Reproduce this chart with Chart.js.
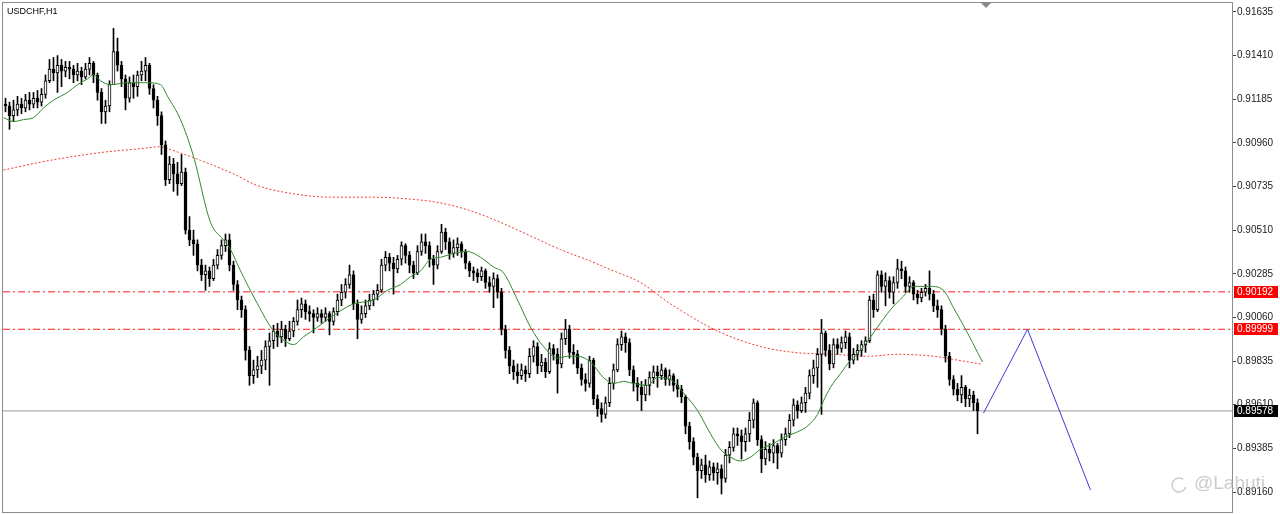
<!DOCTYPE html>
<html>
<head>
<meta charset="utf-8">
<script src="https://cdn.jsdelivr.net/npm/chart.js@4.4.0/dist/chart.umd.min.js"></script>
<style>
  html, body { margin: 0; padding: 0; background: #fff; overflow: hidden; }
  #wrap { width: 1280px; height: 514px; }
</style>
</head>
<body>
<div id="wrap"><canvas id="chart" width="1280" height="514"></canvas></div>
<script>
// USDCHF H1 candles
const firstOpen = 0.9116;
const closes = [
  0.9115, 0.9110, 0.9113, 0.9116, 0.9114, 0.9118, 0.9116, 0.9119, 0.9117, 0.9121,
  0.9128, 0.9134, 0.9132, 0.9136, 0.9133, 0.9135, 0.9134, 0.9131, 0.9133, 0.9130,
  0.9134, 0.9137, 0.9131, 0.9122, 0.9112, 0.9115, 0.9126, 0.9143, 0.9136, 0.9129,
  0.9119, 0.9127, 0.9125, 0.9131, 0.9133, 0.9136, 0.9124, 0.9118, 0.9110, 0.9095,
  0.9077, 0.9085, 0.9080, 0.9075, 0.9081, 0.9051, 0.9046, 0.9044, 0.9033, 0.9028,
  0.9030, 0.9026, 0.9033, 0.9038, 0.9043, 0.9046, 0.9033, 0.9023, 0.9015, 0.9010,
  0.8989, 0.8976, 0.8979, 0.8981, 0.8984, 0.8991, 0.8994, 0.8999, 0.8996, 0.9000,
  0.8995, 0.8999, 0.9004, 0.9010, 0.9013, 0.9009, 0.9008, 0.9006, 0.9008, 0.9006,
  0.9008, 0.9004, 0.9009, 0.9015, 0.9019, 0.9023, 0.9028, 0.9013, 0.9005, 0.9008,
  0.9012, 0.9015, 0.9018, 0.9020, 0.9033, 0.9037, 0.9034, 0.9031, 0.9036, 0.9043,
  0.9038, 0.9033, 0.9029, 0.9040, 0.9045, 0.9043, 0.9036, 0.9033, 0.9040, 0.9050,
  0.9045, 0.9039, 0.9042, 0.9044, 0.9040, 0.9034, 0.9030, 0.9029, 0.9027, 0.9030,
  0.9024, 0.9022, 0.9026, 0.9019, 0.9000, 0.8989, 0.8981, 0.8978, 0.8976, 0.8979,
  0.8977, 0.8986, 0.8991, 0.8981, 0.8983, 0.8978, 0.8990, 0.8987, 0.8982, 0.8995,
  0.9000, 0.8988, 0.8987, 0.8980, 0.8974, 0.8972, 0.8984, 0.8964, 0.8959, 0.8956,
  0.8962, 0.8972, 0.8979, 0.8992, 0.8996, 0.8993, 0.8979, 0.8972, 0.8970, 0.8966,
  0.8971, 0.8975, 0.8978, 0.8976, 0.8979, 0.8974, 0.8976, 0.8971, 0.8969, 0.8965,
  0.8950, 0.8942, 0.8934, 0.8927, 0.8930, 0.8925, 0.8929, 0.8926, 0.8928, 0.8923,
  0.8935, 0.8939, 0.8946, 0.8945, 0.8942, 0.8946, 0.8953, 0.8962, 0.8943, 0.8933,
  0.8938, 0.8936, 0.8940, 0.8936, 0.8943, 0.8946, 0.8953, 0.8961, 0.8958, 0.8962,
  0.8967, 0.8976, 0.8980, 0.8987, 0.8998, 0.8989, 0.8982, 0.8992, 0.8990, 0.8993,
  0.8996, 0.8984, 0.8987, 0.8989, 0.8992, 0.8994, 0.9015, 0.9010, 0.9028, 0.9022,
  0.9025, 0.9019, 0.9024, 0.9031, 0.9030, 0.9022, 0.9024, 0.9018, 0.9016, 0.9019,
  0.9021, 0.9018, 0.9012, 0.9010, 0.9000, 0.8986, 0.8974, 0.8969, 0.8966, 0.8970,
  0.8964, 0.8966, 0.8962, 0.89578
];
const highs = [
  0.9119, 0.9117, 0.9118, 0.9120, 0.9119, 0.9121, 0.9122, 0.9122, 0.9123, 0.9124,
  0.9131, 0.9139, 0.9140, 0.9141, 0.9139, 0.9138, 0.9138, 0.9136, 0.9137, 0.9135,
  0.9137, 0.9140, 0.9138, 0.9132, 0.9124, 0.9118, 0.9128, 0.9155, 0.9150, 0.9138,
  0.9131, 0.9130, 0.9131, 0.9133, 0.9138, 0.9140, 0.9137, 0.9126, 0.9120, 0.9112,
  0.9097, 0.9089, 0.9088, 0.9086, 0.9090, 0.9083, 0.9058, 0.9051, 0.9046, 0.9036,
  0.9033, 0.9032, 0.9036, 0.9041, 0.9046, 0.9049, 0.9049, 0.9035, 0.9025, 0.9017,
  0.9012, 0.8991, 0.8984, 0.8986, 0.8989, 0.8994, 0.8998, 0.9002, 0.9003, 0.9004,
  0.9002, 0.9004, 0.9006, 0.9015, 0.9016, 0.9015, 0.9012, 0.9010, 0.9011, 0.9010,
  0.9011, 0.9009, 0.9011, 0.9018, 0.9023, 0.9026, 0.9033, 0.9030, 0.9015, 0.9012,
  0.9015, 0.9018, 0.9020, 0.9023, 0.9036, 0.9040, 0.9039, 0.9037, 0.9038, 0.9045,
  0.9044, 0.9040, 0.9035, 0.9043, 0.9049, 0.9049, 0.9045, 0.9038, 0.9043, 0.9054,
  0.9052, 0.9047, 0.9046, 0.9047, 0.9045, 0.9041, 0.9035, 0.9032, 0.9031, 0.9032,
  0.9031, 0.9027, 0.9029, 0.9028, 0.9021, 0.9002, 0.8991, 0.8984, 0.8982, 0.8982,
  0.8981, 0.8990, 0.8994, 0.8993, 0.8987, 0.8985, 0.8993, 0.8992, 0.8990, 0.8998,
  0.9005, 0.9002, 0.8992, 0.8989, 0.8982, 0.8977, 0.8986, 0.8985, 0.8966, 0.8962,
  0.8965, 0.8975, 0.8982, 0.8995, 0.8999, 0.8998, 0.8995, 0.8981, 0.8975, 0.8973,
  0.8974, 0.8978, 0.8981, 0.8981, 0.8982, 0.8980, 0.8979, 0.8977, 0.8974, 0.8971,
  0.8966, 0.8952, 0.8944, 0.8936, 0.8933, 0.8935, 0.8932, 0.8931, 0.8931, 0.8930,
  0.8938, 0.8942, 0.8949, 0.8949, 0.8948, 0.8949, 0.8957, 0.8964, 0.8963, 0.8945,
  0.8942, 0.8941, 0.8943, 0.8941, 0.8946, 0.8949, 0.8956, 0.8964, 0.8963, 0.8965,
  0.8970, 0.8979, 0.8984, 0.8990, 0.9005, 0.8999, 0.8992, 0.8995, 0.8995, 0.8996,
  0.8999, 0.8998, 0.8990, 0.8992, 0.8994, 0.8996, 0.9017, 0.9018, 0.9030, 0.9030,
  0.9029, 0.9027, 0.9027, 0.9036, 0.9035, 0.9032, 0.9027, 0.9025, 0.9020, 0.9021,
  0.9023, 0.9030, 0.9020, 0.9015, 0.9012, 0.9002, 0.8988, 0.8976, 0.8972, 0.8976,
  0.8971, 0.8969, 0.8968, 0.8964
];
const lows = [
  0.9112, 0.9103, 0.9107, 0.9110, 0.9111, 0.9112, 0.9113, 0.9114, 0.9114, 0.9115,
  0.9119, 0.9127, 0.9128, 0.9122, 0.9125, 0.9130, 0.9129, 0.9127, 0.9128, 0.9126,
  0.9129, 0.9131, 0.9127, 0.9118, 0.9106, 0.9106, 0.9112, 0.9126, 0.9133, 0.9125,
  0.9113, 0.9117, 0.9119, 0.9120, 0.9128, 0.9128, 0.9121, 0.9114, 0.9105, 0.9090,
  0.9074, 0.9075, 0.9071, 0.9069, 0.9074, 0.9049, 0.9043, 0.9038, 0.9030, 0.9025,
  0.9020, 0.9022, 0.9025, 0.9031, 0.9036, 0.9040, 0.9030, 0.9020, 0.9010, 0.9006,
  0.8984, 0.8971, 0.8972, 0.8975, 0.8977, 0.8979, 0.8971, 0.8990, 0.8991, 0.8993,
  0.8991, 0.8994, 0.8996, 0.9002, 0.9006, 0.9005, 0.9004, 0.8998, 0.9004, 0.9003,
  0.9004, 0.8997, 0.9002, 0.9007, 0.9012, 0.9016, 0.9021, 0.9010, 0.8995, 0.9003,
  0.9006, 0.9010, 0.9012, 0.9015, 0.9019, 0.9030, 0.9030, 0.9018, 0.9029, 0.9033,
  0.9034, 0.9029, 0.9026, 0.9028, 0.9038, 0.9039, 0.9032, 0.9023, 0.9031, 0.9039,
  0.9041, 0.9036, 0.9037, 0.9038, 0.9037, 0.9031, 0.9027, 0.9025, 0.9024, 0.9025,
  0.9021, 0.9019, 0.9011, 0.9016, 0.8997, 0.8985, 0.8977, 0.8974, 0.8972, 0.8974,
  0.8973, 0.8975, 0.8983, 0.8977, 0.8978, 0.8975, 0.8977, 0.8984, 0.8967, 0.8980,
  0.8992, 0.8985, 0.8982, 0.8977, 0.8971, 0.8968, 0.8970, 0.8961, 0.8955, 0.8952,
  0.8954, 0.8960, 0.8969, 0.8978, 0.8989, 0.8988, 0.8976, 0.8968, 0.8963, 0.8958,
  0.8963, 0.8966, 0.8972, 0.8970, 0.8974, 0.8971, 0.8971, 0.8968, 0.8965, 0.8962,
  0.8946, 0.8938, 0.8930, 0.8913, 0.8923, 0.8921, 0.8922, 0.8922, 0.8920, 0.8915,
  0.8921, 0.8931, 0.8937, 0.8940, 0.8933, 0.8937, 0.8942, 0.8949, 0.8940, 0.8926,
  0.8930, 0.8932, 0.8931, 0.8928, 0.8934, 0.8940, 0.8944, 0.8950, 0.8954, 0.8957,
  0.8957, 0.8964, 0.8972, 0.8970, 0.8956, 0.8986, 0.8979, 0.8980, 0.8987, 0.8988,
  0.8990, 0.8980, 0.8982, 0.8984, 0.8986, 0.8988, 0.8993, 0.9006, 0.9009, 0.9019,
  0.9012, 0.9016, 0.9013, 0.9021, 0.9026, 0.9019, 0.9019, 0.9015, 0.9013, 0.9014,
  0.9017, 0.9015, 0.9009, 0.9006, 0.8997, 0.8983, 0.8971, 0.8966, 0.8963, 0.8962,
  0.8960, 0.8960, 0.8958, 0.8946
];

// fast moving average (green), sampled along the bar index
const fastMaX = [-0.5, 2, 4.5, 7, 9.5, 12, 15.5, 18, 20.5, 22, 23.75, 26.25, 30.5, 35.5, 38.75, 40.5, 43.75, 47,
  51.25, 54.5, 56.25, 58.75, 63, 67, 70.5, 72, 74.5, 78, 81.25, 87, 92, 95.5, 98.75, 101.25, 103.75, 106.25,
  108.75, 112, 115.5, 118.75, 122, 124.5, 128, 131.25, 134.5, 138, 140.5, 143, 146.25, 149.5, 152, 154.5, 157,
  160.5, 163, 166.25, 169.5, 173, 176.25, 178.75, 181.25, 183.75, 186.25, 188.75, 192, 194.5, 198, 200.5, 203,
  204.5, 206.25, 208.75, 211.25, 214.5, 218, 221.25, 224.5, 227, 231.25, 234.5, 237, 240.5, 243, 244.25];
const fastMaY = [0.9109, 0.9107, 0.9108, 0.9109, 0.9114, 0.9118, 0.9122, 0.9126, 0.9129, 0.9131, 0.9128, 0.9126,
  0.9127, 0.9127, 0.9126, 0.9120, 0.9108, 0.9089, 0.9055, 0.9046, 0.9041, 0.9030, 0.9013, 0.8999, 0.8993, 0.8992,
  0.8996, 0.9001, 0.9006, 0.9013, 0.9015, 0.9020, 0.9023, 0.9027, 0.9030, 0.9036, 0.9037, 0.9039, 0.9040, 0.9037,
  0.9032, 0.9029, 0.9015, 0.9001, 0.8991, 0.8985, 0.8986, 0.8986, 0.8983, 0.8975, 0.8972, 0.8973, 0.8972, 0.8971,
  0.8975, 0.8974, 0.8967, 0.8958, 0.8946, 0.8938, 0.8934, 0.8932, 0.8934, 0.8938, 0.8941, 0.8944, 0.8947, 0.8950,
  0.8956, 0.8963, 0.8970, 0.8977, 0.8984, 0.8991, 0.9001, 0.9010, 0.9017, 0.9022, 0.9022, 0.9020, 0.9011, 0.8998,
  0.8988, 0.8983];

// slow moving average (red dotted)
const slowMaX = [-0.5, 11.25, 23.75, 33.75, 38.75, 40.5, 48.75, 57, 63, 71.25, 81.25, 91.25, 101.25, 108.75, 116.25,
  123.75, 131.25, 138.75, 146.25, 152, 158.75, 166.25, 178, 188.75, 197, 207, 215.5, 223, 232, 238, 243.75];
const slowMaY = [0.9082, 0.9087, 0.9091, 0.9093, 0.9094, 0.9093, 0.9087, 0.9080, 0.9074, 0.9070, 0.9068, 0.9068,
  0.9067, 0.9065, 0.9061, 0.9055, 0.9048, 0.9041, 0.9035, 0.9030, 0.9024, 0.9013, 0.8999, 0.8991, 0.8988, 0.8987,
  0.8986, 0.8987, 0.8986, 0.8984, 0.8982];

// projected path (blue)
const pathX = [244.5, 255.5, 271.25];
const pathY = [0.89567, 0.89999, 0.8917];

const levels = [0.90192, 0.89999];
const lastPrice = 0.89578;
const priceTicks = [0.91635, 0.91410, 0.91185, 0.90960, 0.90735, 0.90510, 0.90285, 0.90060, 0.89835, 0.89610, 0.89385, 0.89160];

const xMin = -0.625, xMax = 306.625;
const opens = closes.map((c, i) => i === 0 ? firstOpen : closes[i - 1]);
const bodies = closes.map((c, i) => ({ x: i, y: [opens[i], c] }));
const wicks = closes.map((c, i) => ({ x: i, y: [lows[i], highs[i]] }));
const bodyFill = closes.map((c, i) => c >= opens[i] ? '#ffffff' : '#000000');
const pts = (xs, ys) => xs.map((x, i) => ({ x: x, y: ys[i] }));
const hline = v => [{ x: xMin, y: v }, { x: xMax, y: v }];
const levelLine = v => ({
  type: 'line', data: hline(v), borderColor: '#ff1a1a', backgroundColor: '#ff1a1a',
  borderWidth: 1, borderDash: [7, 3, 2, 3], pointRadius: 0, order: 5
});

const overlay = {
  id: 'overlay',
  afterDraw(chart) {
    const ctx = chart.ctx;
    const a = chart.chartArea;
    const ys = chart.scales.y;
    ctx.save();
    ctx.strokeStyle = '#8c8c8c';
    ctx.lineWidth = 1;
    ctx.strokeRect(a.left - 0.5, a.top - 0.5, a.right - a.left + 1, a.bottom - a.top + 1);

    ctx.fillStyle = '#000';
    ctx.font = '9px "Liberation Sans"';
    ctx.textBaseline = 'middle';
    ctx.fillText('USDCHF,H1', 7, 12);

    // chart shift marker
    ctx.fillStyle = '#8c8c8c';
    ctx.beginPath();
    ctx.moveTo(981, a.top);
    ctx.lineTo(991, a.top);
    ctx.lineTo(986, a.top + 5);
    ctx.closePath();
    ctx.fill();

    const boxes = [[levels[0], '#ff0000'], [levels[1], '#ff0000'], [lastPrice, '#000000']];
    ctx.font = '10px "Liberation Sans"';
    boxes.forEach(([v, bg]) => {
      const y = Math.round(ys.getPixelForValue(v));
      ctx.fillStyle = bg;
      ctx.fillRect(a.right + 2, y - 6, 44, 12);
      ctx.fillStyle = '#fff';
      ctx.fillText(v.toFixed(5), a.right + 5, y + 0.5);
    });

    // watermark
    ctx.fillStyle = 'rgba(170,170,170,0.6)';
    ctx.font = '19px "Liberation Sans"';
    ctx.fillText('@Lahuti', 1194, 484);
    ctx.strokeStyle = 'rgba(170,170,170,0.6)';
    ctx.lineWidth = 1.5;
    ctx.beginPath();
    ctx.arc(1179, 485, 7, 0.3, Math.PI * 1.7);
    ctx.stroke();
    ctx.restore();
  }
};

new Chart(document.getElementById('chart'), {
  type: 'bar',
  data: {
    datasets: [
      levelLine(levels[0]),
      levelLine(levels[1]),
      { type: 'line', data: hline(lastPrice), borderColor: '#999999', borderWidth: 1, pointRadius: 0, order: 5 },
      { type: 'line', data: pts(slowMaX, slowMaY), borderColor: '#f03a30', borderWidth: 1, borderDash: [2, 2], pointRadius: 0, cubicInterpolationMode: 'monotone', order: 4 },
      { data: wicks, backgroundColor: '#000', barThickness: 1, grouped: false, order: 3 },
      { data: bodies, backgroundColor: bodyFill, borderColor: '#000', borderWidth: 1, borderSkipped: false, barThickness: 3, minBarLength: 1, grouped: false, order: 2 },
      { type: 'line', data: pts(fastMaX, fastMaY), borderColor: '#2f8a2f', borderWidth: 1, pointRadius: 0, cubicInterpolationMode: 'monotone', order: 1 },
      { type: 'line', data: pts(pathX, pathY), borderColor: '#3a3ad8', borderWidth: 1, pointRadius: 0, order: 1 }
    ]
  },
  options: {
    responsive: false,
    devicePixelRatio: 1,
    animation: false,
    layout: { padding: { left: 3, top: 3, bottom: 2, right: 0 } },
    plugins: { legend: { display: false }, tooltip: { enabled: false } },
    scales: {
      x: { type: 'linear', min: xMin, max: xMax, offset: false, display: false },
      y: {
        position: 'right',
        min: 0.89057,
        max: 0.91681,
        afterBuildTicks: s => { s.ticks = priceTicks.map(v => ({ value: v })); },
        afterFit: s => { s.width = 48; s.paddingTop = 0; s.paddingBottom = 0; },
        grid: { drawOnChartArea: false, tickLength: 4, color: '#444' },
        border: { color: '#444' },
        ticks: {
          padding: 1,
          color: '#222',
          font: { family: 'Liberation Sans', size: 10 },
          callback: v => v.toFixed(5)
        }
      }
    }
  },
  plugins: [overlay]
});
</script>
</body>
</html>
